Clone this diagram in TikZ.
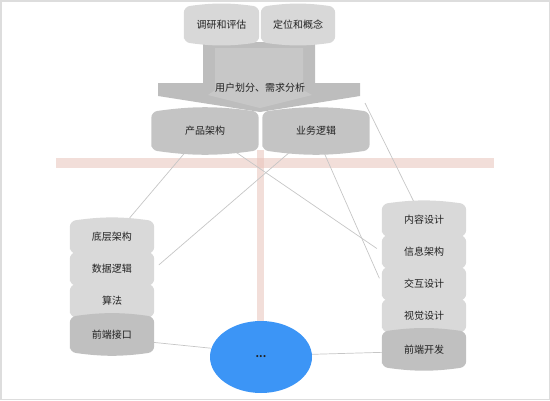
\documentclass[tikz,border=0pt]{standalone}
\usepackage{fontspec}
\usepackage{xcolor}
\usepackage{tikz}
\usetikzlibrary{positioning,backgrounds,shapes.geometric}
\newfontfamily\cjkfont{Noto Sans CJK SC}
\definecolor{pgtext}{HTML}{222222}
\definecolor{pgframe}{HTML}{DDDDDD}
\definecolor{pgtop}{HTML}{D8D8D8}
\definecolor{pgmid}{HTML}{C4C4C4}
\definecolor{pgarrow}{HTML}{BDBDBD}
\definecolor{pgarrowin}{HTML}{C7C7C7}
\definecolor{pglight}{HTML}{D9D9D9}
\definecolor{pgdark}{HTML}{C0C0C0}
\definecolor{pgband}{HTML}{E8C3BA}
\definecolor{pgline}{HTML}{C6C6C6}
\definecolor{pgblue}{HTML}{3C95F6}

\begin{document}
\begin{tikzpicture}[x=1pt, y=-1pt,
  font=\cjkfont\fontsize{10}{12}\selectfont, text=pgtext,
  pad/.style={align=center, inner sep=0pt},
  stage/.style={pad, minimum width=75pt, minimum height=35pt},
  field/.style={pad, minimum width=107pt, minimum height=38pt},
  item/.style={pad, minimum width=84pt, minimum height=31.5pt},
  lastitem/.style={item, minimum height=35pt},
  blob/.style={ellipse, fill=pgblue, minimum width=102pt, minimum height=72pt, inner sep=0pt},
  band/.style={fill=pgband, fill opacity=0.55},
  link/.style={draw=pgline, line width=0.7pt},
  gap/.style={link, shorten >=6pt},
  node distance=0pt]
  \useasboundingbox (0,0) rectangle (550,400);
  \draw[pgframe, line width=1.5pt] (0.75,0.75) rectangle (549.25,399.25);
  \node (split) at (260,88) {用户划分、需求分析};
  \coordinate (wingtip) at (365,103);
  \node[stage] (survey) at (221.5,24.5) {调研和评估};
  \node[stage, minimum width=74pt] (concept) at (298,24.5) {定位和概念};
  \node[field] (prod) at (205,131) {产品架构};
  \node[field] (biz) at (316,131) {业务逻辑};
  % left stack
  \node[item] (base) at (112,237) {底层架构};
  \node[item, below=of base] (data) {数据逻辑};
  \node[item, below=of data] (algo) {算法};
  \node[lastitem, below=of algo] (iface) {前端接口};
  % right stack
  \node[item] (content) at (424,220) {内容设计};
  \node[item, below=of content] (info) {信息架构};
  \node[item, below=of info] (ixd) {交互设计};
  \node[item, below=of ixd] (visual) {视觉设计};
  \node[lastitem, below=of visual] (frontdev) {前端开发};
  \node[blob] (dots) at (261,357) {\textbf{...}};
  \begin{scope}[on background layer]
    \fill[band] (56,158) rectangle (494,168);
    \fill[band] (257,150) rectangle (264,325);
    \draw[link] ([xshift=-18pt]prod.south) -- ([xshift=15pt]base.north);
    \draw[gap] ([xshift=-24pt]biz.south) -- (data.east);
    \draw[gap] ([xshift=28pt]prod.south) -- (info.west);
    \draw[gap] ([xshift=7pt]biz.south) -- (ixd.west);
    \draw[link] (wingtip) -- ([xshift=-9pt]content.north);
    \draw[link] ([yshift=-8pt]iface.east) -- (dots.170);
    \draw[link] (dots.3) -- ([yshift=-3pt]frontdev.west);
    % big arrow
    \fill[pgarrow] (203,42) -- (315,42) -- (315,83) -- (360,83) -- (360,96) -- (260,112)
      -- (158,96) -- (158,83) -- (203,83) -- cycle;
    \fill[pgarrowin] (215,48) -- (303,48) -- (303,90) -- (312,95) -- (260,108) -- (208,95)
      -- (215,90) -- cycle;
    % cushion shapes behind the texts
    \foreach \n/\c in {survey/pgtop, concept/pgtop, prod/pgmid, biz/pgmid,
        base/pglight, data/pglight, algo/pglight, iface/pgdark,
        content/pglight, info/pglight, ixd/pglight, visual/pglight, frontdev/pgdark}
      \fill[\c, rounded corners=6pt] (\n.south west) -- (\n.north west)
        to[bend left=8] (\n.north east) -- (\n.south east)
        to[bend left=8] (\n.south west) -- cycle;
  \end{scope}
\end{tikzpicture}
\end{document}
